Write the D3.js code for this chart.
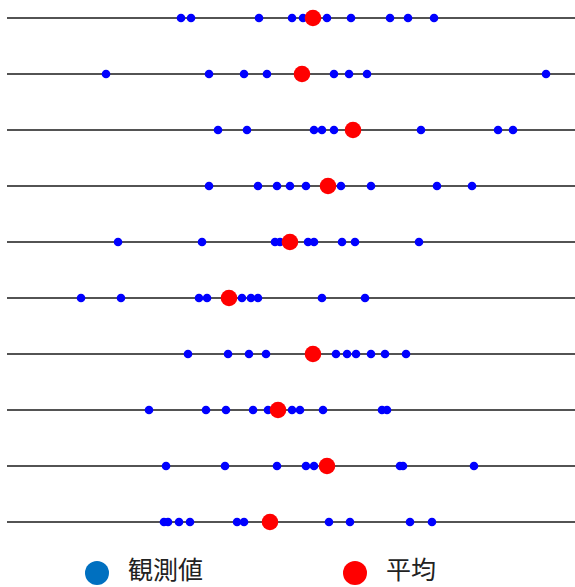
<!DOCTYPE html>
<html>
<head>
<meta charset="utf-8">
<script src="https://cdn.jsdelivr.net/npm/d3@7"></script>
<style>
  html, body { margin: 0; padding: 0; background: #fff; }
  svg { display: block; }
</style>
</head>
<body>
<div id="chart"></div>
<script>
// observations per row (top to bottom)
var rows = ['1', '2', '3', '4', '5', '6', '7', '8', '9', '10']

var observations = [
    [-1.162, -1.056, -0.338, 0.011, 0.127, 0.380, 0.634, 1.046, 1.236, 1.511],
    [-1.954, -0.866, -0.496, -0.254, 0.454, 0.613, 0.803, 2.694],
    [-0.771, -0.465, 0.243, 0.327, 0.454, 1.373, 2.187, 2.345],
    [-0.866, -0.349, -0.148, -0.011, 0.158, 0.528, 0.845, 1.542, 1.912],
    [-1.827, -0.940, -0.169, -0.116, 0.180, 0.243, 0.539, 0.676, 1.352],
    [-2.218, -1.796, -0.972, -0.887, -0.518, -0.423, -0.349, 0.327, 0.782],
    [-1.088, -0.665, -0.444, -0.264, 0.475, 0.592, 0.687, 0.845, 0.993, 1.215],
    [-1.500, -0.898, -0.687, -0.401, -0.243, 0.011, 0.095, 0.338, 0.961, 1.014],
    [-1.320, -0.697, -0.148, 0.158, 0.243, 1.151, 1.183, 1.933],
    [-1.342, -1.299, -1.183, -1.067, -0.570, -0.496, 0.401, 0.623, 1.257, 1.489]
]

var means = [0.232, 0.116, 0.655, 0.391, -0.011, -0.655, 0.232, -0.137, 0.380, -0.222]

var legendLabels = ['観測値', '平均']

var width = 575,
    height = 587

var svg = d3.select('#chart')
    .append('svg')
    .attr('width', width)
    .attr('height', height)

var x = d3.scaleLinear()
    .domain([-3, 3])
    .range([7, 575])

var y = d3.scalePoint()
    .domain(rows)
    .range([18, 522])

// horizontal lines
svg.append('g')
    .selectAll('line')
    .data(rows)
    .enter()
    .append('line')
    .attr('x1', x(-3))
    .attr('x2', x(3))
    .attr('y1', function(d) { return y(d) })
    .attr('y2', function(d) { return y(d) })
    .attr('stroke', '#1a1a1a')
    .attr('stroke-width', 1.7)

// observed values
var points = []
observations.forEach(function(vals, i) {
    vals.forEach(function(v) {
        points.push({ row: rows[i], value: v })
    })
})

svg.append('g')
    .selectAll('circle')
    .data(points)
    .enter()
    .append('circle')
    .attr('cx', function(d) { return x(d.value) })
    .attr('cy', function(d) { return y(d.row) })
    .attr('r', 4.3)
    .attr('fill', '#0000ff')

// means
svg.append('g')
    .selectAll('circle')
    .data(means)
    .enter()
    .append('circle')
    .attr('cx', function(d) { return x(d) })
    .attr('cy', function(d, i) { return y(rows[i]) })
    .attr('r', 8.3)
    .attr('fill', '#ff0000')

// legend
var legendColors = ['#0070c0', '#ff0000']
var legendX = [97, 355]

var legend = svg.append('g')
    .selectAll('g')
    .data(legendLabels)
    .enter()
    .append('g')
    .attr('transform', function(d, i) { return 'translate(' + legendX[i] + ',573)' })

legend.append('circle')
    .attr('r', 12)
    .attr('fill', function(d, i) { return legendColors[i] })

legend.append('text')
    .attr('x', 31)
    .attr('y', 6)
    .attr('font-family', '"Noto Sans CJK JP", sans-serif')
    .attr('font-size', 25)
    .attr('fill', '#222')
    .text(function(d) { return d })
</script>
</body>
</html>
